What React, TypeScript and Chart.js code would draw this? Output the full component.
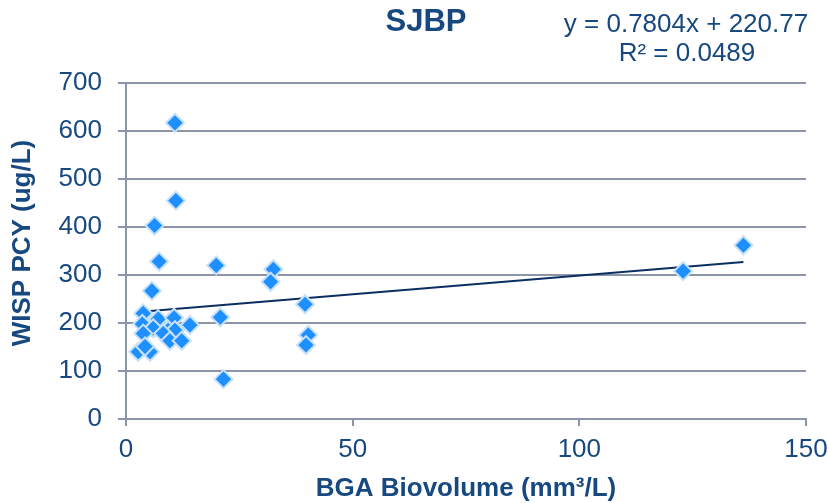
import React, { useEffect, useRef } from "react";
import { Chart, registerables } from "chart.js";

Chart.register(...registerables);

// ---- data ----
const bgaBiovolume = [
  10.8, 11.0, 6.3, 7.3, 5.7, 19.9, 20.8, 21.5, 32.5, 31.9, 39.5, 40.2, 39.7,
  122.9, 136.2, 3.8, 7.1, 10.6, 3.6, 6.0, 14.1, 9.3, 10.8, 8.2, 3.8, 9.7, 12.3,
  2.7, 5.3, 4.2,
];
const wispPcy = [
  617, 455, 403, 328, 267, 320, 212, 83, 312, 286, 239, 175, 154, 308, 362, 220,
  208, 211, 198, 189, 196, 185, 185, 178, 178, 163, 163, 140, 140, 151,
];
const trendSlope = 0.7804;
const trendIntercept = 220.77;
const xTickValues = [0, 50, 100, 150];
const yTickValues = [0, 100, 200, 300, 400, 500, 600, 700];

const chartTitle = "SJBP";
const equationLine = "y = 0.7804x + 220.77";
const r2Line = "R² = 0.0489";
const xTitle = "BGA Biovolume (mm³/L)";
const yTitle = "WISP PCY (ug/L)";

// ---- styles ----
const FONT = "'Liberation Sans', Arial, sans-serif";
const TEXT = "#17487F";
const GRID = "#8C94AA";
const POINT_FILL = "#1E8FFF";
const POINT_BORDER = "#C6E0FA";
const TREND = "#0B2F60";

const textPlugin = {
  id: "texts",
  afterDraw(chart: any) {
    const c = chart.ctx as CanvasRenderingContext2D;
    const area = chart.chartArea;
    c.save();
    c.fillStyle = TEXT;
    c.textAlign = "center";
    c.textBaseline = "middle";
    c.font = `bold 31px ${FONT}`;
    c.fillText(chartTitle, 426, 22);
    c.font = `26px ${FONT}`;
    c.fillText(equationLine, 686, 25);
    c.fillText(r2Line, 687, 54);
    c.font = `bold 26px ${FONT}`;
    c.fillText(xTitle, (area.left + area.right) / 2, 489);
    c.translate(23, 243);
    c.rotate(-Math.PI / 2);
    c.fillText(yTitle, 0, 0);
    c.restore();
  },
};

export default function App() {
  const ref = useRef<HTMLCanvasElement>(null);
  useEffect(() => {
    document.body.style.margin = "0";
    const canvas = ref.current!;
    const points = bgaBiovolume.map((x, i) => ({ x, y: wispPcy[i] }));
    const xMin = Math.min(...bgaBiovolume);
    const xMax = Math.max(...bgaBiovolume);
    const trend = [
      { x: xMin, y: trendSlope * xMin + trendIntercept },
      { x: xMax, y: trendSlope * xMax + trendIntercept },
    ];
    const chart = new Chart(canvas, {
      type: "scatter",
      data: {
        datasets: [
          {
            label: "WISP PCY",
            data: points,
            pointStyle: "rectRot",
            pointRadius: 9,
            pointHoverRadius: 9,
            backgroundColor: POINT_FILL,
            borderColor: POINT_BORDER,
            borderWidth: 2,
            order: 0,
          },
          {
            type: "line",
            label: "Trend",
            data: trend,
            borderColor: TREND,
            borderWidth: 2,
            pointRadius: 0,
            fill: false,
            order: 1,
          } as any,
        ],
      },
      options: {
        responsive: false,
        animation: false,
        devicePixelRatio: 1,
        layout: { padding: { top: 83, right: 23, left: 0, bottom: 0 } },
        plugins: {
          legend: { display: false },
          title: { display: false },
          tooltip: { enabled: false },
        },
        scales: {
          x: {
            type: "linear",
            min: 0,
            max: 150,
            afterBuildTicks: (s: any) => {
              s.ticks = xTickValues.map((v) => ({ value: v }));
            },
            afterFit: (s: any) => {
              s.height = 84;
              s.paddingLeft = 0;
              s.paddingRight = 0;
            },
            grid: {
              drawOnChartArea: false,
              drawTicks: true,
              tickLength: 7,
              color: GRID,
              lineWidth: 2,
            },
            border: { display: true, color: GRID, width: 2 },
            ticks: {
              color: TEXT,
              font: { family: FONT, size: 26 },
              padding: 8,
              maxRotation: 0,
            },
          },
          y: {
            type: "linear",
            min: 0,
            max: 700,
            afterBuildTicks: (s: any) => {
              s.ticks = yTickValues.map((v) => ({ value: v }));
            },
            afterFit: (s: any) => {
              s.width = 126;
              s.paddingTop = 0;
              s.paddingBottom = 0;
            },
            grid: {
              drawOnChartArea: true,
              drawTicks: true,
              tickLength: 8,
              color: GRID,
              lineWidth: 2,
            },
            border: { display: true, color: GRID, width: 2 },
            ticks: {
              color: TEXT,
              font: { family: FONT, size: 26 },
              padding: 16,
            },
          },
        },
      },
      plugins: [textPlugin],
    });
    return () => chart.destroy();
  }, []);
  return (
    <div
      style={{
        position: "absolute",
        left: 0,
        top: 0,
        width: 829,
        height: 503,
        background: "#ffffff",
      }}
    >
      <canvas
        ref={ref}
        width={829}
        height={503}
        style={{ display: "block", width: 829, height: 503 }}
      />
    </div>
  );
}
